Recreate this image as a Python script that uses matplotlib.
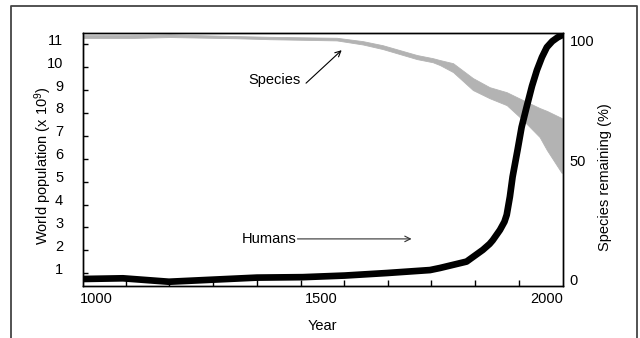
import matplotlib
matplotlib.use('Agg')
import matplotlib.pyplot as plt
from matplotlib.lines import Line2D
from matplotlib.transforms import ScaledTranslation

plt.rcParams['font.family'] = ['Liberation Sans', 'DejaVu Sans']
plt.rcParams['mathtext.fontset'] = 'custom'
plt.rcParams['mathtext.rm'] = 'Liberation Sans'
plt.rcParams['mathtext.default'] = 'rm'

# world population (billions)
humans_year = [971, 1060, 1162, 1259, 1357, 1459, 1552, 1645, 1741, 1763, 1822,
               1858, 1873, 1880, 1896, 1906, 1911, 1918, 1924, 1935, 1944, 1955,
               1967, 1978, 1989, 2000, 2012, 2024, 2033]
humans_pop = [0.75, 0.78, 0.63, 0.72, 0.81, 0.83, 0.90, 1.01, 1.14, 1.23, 1.51,
              2.02, 2.28, 2.44, 2.89, 3.25, 3.55, 4.34, 5.21, 6.38, 7.38, 8.25,
              9.17, 9.87, 10.43, 10.87, 11.13, 11.30, 11.39]

# species remaining (%) - band upper / lower edge
species_year = [971, 1075, 1164, 1313, 1386, 1534, 1592, 1636, 1712, 1747, 1763,
                1792, 1836, 1873, 1911, 1947, 1984, 2000, 2033]
species_hi = [102.1, 102.1, 102.4, 101.7, 101.4, 101.0, 99.6, 97.9, 93.8, 92.5,
              91.7, 90.4, 84.2, 80.4, 78.3, 75.0, 71.7, 70.5, 67.5]
species_lo = [100.9, 100.9, 101.3, 100.8, 100.4, 99.9, 98.2, 96.3, 92.1, 90.8,
              89.6, 86.7, 79.2, 75.8, 72.9, 66.7, 59.6, 54.2, 44.6]

x_labels = [1000, 1500, 2000]
x_minor = [1066, 1162, 1260, 1358, 1454, 1550, 1648, 1744, 1840, 1938]
pop_ticks = list(range(1, 12))
pct_ticks = [0, 50, 100]

fs = 10.5

fig = plt.figure(figsize=(6.4, 3.38), dpi=100)
ax = fig.add_axes([0.129, 0.154, 0.750, 0.747])
ax2 = ax.twinx()

# species band on the right axis
ax2.fill_between(species_year, species_lo, species_hi, color='#b3b3b3', lw=0.6,
                 edgecolor='#b3b3b3')
ax2.set_ylim(-2.5, 102.8)
ax2.set_yticks(pct_ticks)
ax2.tick_params(axis='y', length=0, pad=5, labelsize=fs)
ax2.set_ylabel('Species remaining (%)', fontsize=fs)
ax2.yaxis.set_label_coords(1.074, 0.4325)

# humans on top
ax.set_zorder(ax2.get_zorder() + 1)
ax.patch.set_visible(False)
ax.plot(humans_year, humans_pop, color='black', lw=4.8,
        solid_joinstyle='round', solid_capstyle='round')

ax.set_xlim(970.5, 2034.8)
ax.set_ylim(0.446, 11.47)
ax.set_xticks(x_labels)
ax.set_xticks(x_minor, minor=True)
ax.set_yticks(pop_ticks)
ax.tick_params(axis='x', which='major', length=0, pad=4, labelsize=fs)
ax.tick_params(axis='x', which='minor', direction='in', length=4.3, width=1,
               color='black')
ax.tick_params(axis='y', direction='in', length=3.6, width=1, pad=14,
               labelsize=fs)
for lab in ax.get_yticklabels():
    lab.set_transform(lab.get_transform() + ScaledTranslation(0, 0.05, fig.dpi_scale_trans))

ax.set_xlabel('Year', fontsize=fs)
ax.xaxis.set_label_coords(0.5, -0.13)
ax.set_ylabel('World population (x 10$^{9}$)', fontsize=fs)
ax.yaxis.set_label_coords(-0.06, 0.475)

for a in (ax, ax2):
    for s in a.spines.values():
        s.set_linewidth(1)
        s.set_color('black')

# annotations
ax.text(1453, 9.43, 'Species', fontsize=fs, ha='right', va='center')
ax.annotate('', xy=(1545, 10.74), xytext=(1466, 9.30),
            arrowprops=dict(arrowstyle='->', color='black', lw=0.8,
                            shrinkA=0, shrinkB=0))
ax.text(1445, 2.5, 'Humans', fontsize=fs, ha='right', va='center')
ax.annotate('', xy=(1700, 2.5), xytext=(1447, 2.5),
            arrowprops=dict(arrowstyle='->', color='#333333', lw=0.8,
                            shrinkA=0, shrinkB=0))

# outer frame (open at the bottom)
fx0, fx1, fy1 = 10.5 / 640, 636.5 / 640, 1 - 5.5 / 338
fig.add_artist(Line2D([fx0, fx0, fx1, fx1], [0, fy1, fy1, 0], color='#444444',
                      lw=1.3, transform=fig.transFigure))

fig.savefig('out.png', dpi=100)
